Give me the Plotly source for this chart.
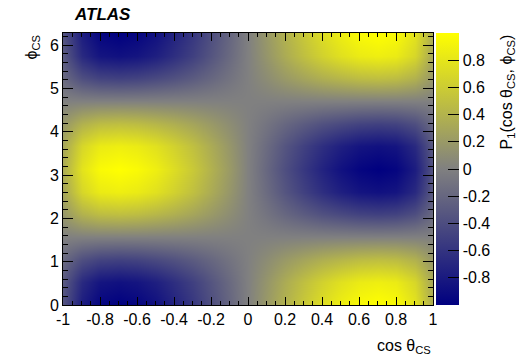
import plotly.graph_objects as go

cos_theta = [-1.0, -0.9, -0.8, -0.7, -0.6, -0.5, -0.4, -0.3, -0.2, -0.1, 0.0,
             0.1, 0.2, 0.3, 0.4, 0.5, 0.6, 0.7, 0.8, 0.9, 1.0]
phi = [0.0, 0.524, 1.047, 1.571, 2.094, 2.618, 3.142, 3.665, 4.189, 4.712, 5.236, 5.760, 6.283]

rowA = [-.35, -.78, -.96, -1.0, -.96, -.87, -.73, -.57, -.39, -.20, 0, .20, .39, .57, .73, .87, .96, 1.0, .96, .78, .35]
rowB = [-.30, -.68, -.84, -.87, -.84, -.76, -.64, -.50, -.34, -.17, 0, .17, .34, .50, .64, .76, .84, .87, .84, .68, .30]
rowC = [-.18, -.39, -.48, -.50, -.48, -.43, -.37, -.29, -.20, -.10, 0, .10, .20, .29, .37, .43, .48, .50, .48, .39, .18]
rowD = [0] * 21
rowE = [.18, .39, .48, .50, .48, .43, .37, .29, .20, .10, 0, -.10, -.20, -.29, -.37, -.43, -.48, -.50, -.48, -.39, -.18]
rowF = [.30, .68, .84, .87, .84, .76, .64, .50, .34, .17, 0, -.17, -.34, -.50, -.64, -.76, -.84, -.87, -.84, -.68, -.30]
rowG = [.35, .78, .96, 1.0, .96, .87, .73, .57, .39, .20, 0, -.20, -.39, -.57, -.73, -.87, -.96, -1.0, -.96, -.78, -.35]
p1_values = [rowA, rowB, rowC, rowD, rowE, rowF, rowG, rowF, rowE, rowD, rowC, rowB, rowA]

x_ticks = [-1, -0.8, -0.6, -0.4, -0.2, 0, 0.2, 0.4, 0.6, 0.8, 1]
x_ticktext = ["-1", "-0.8", "-0.6", "-0.4", "-0.2", "0", "0.2", "0.4", "0.6", "0.8", "1"]
y_ticks = [0, 1, 2, 3, 4, 5, 6]
cb_ticks = [-0.8, -0.6, -0.4, -0.2, 0, 0.2, 0.4, 0.6, 0.8]
cb_ticktext = ["-0.8", "-0.6", "-0.4", "-0.2", "0", "0.2", "0.4", "0.6", "0.8"]

FONT = "Liberation Sans, Arial, Helvetica, sans-serif"
L, R, T, B = 63, 91, 33, 53
W, H = 524, 358
pw = W - L - R
ph = H - T - B

fig = go.Figure(go.Heatmap(
    x=cos_theta, y=phi, z=p1_values, zsmooth="best",
    zmin=-1, zmax=1,
    colorscale=[[0, "#000080"], [0.5, "#808080"], [1, "#ffff00"]],
    colorbar=dict(
        x=1 + 3 / pw, xanchor="left", xpad=0, ypad=0,
        y=0.5, len=1, lenmode="fraction",
        thickness=23, thicknessmode="pixels",
        outlinewidth=0,
        tickvals=cb_ticks, ticktext=cb_ticktext,
        ticks="inside", ticklen=11, tickcolor="black", tickwidth=1,
        tickfont=dict(family=FONT, size=16, color="black"),
    ),
))

fig.update_layout(
    width=W, height=H,
    margin=dict(l=L, r=R, t=T, b=B),
    paper_bgcolor="white", plot_bgcolor="white",
    font=dict(family=FONT, size=16, color="black"),
    xaxis=dict(range=[-1, 1], tickvals=x_ticks, ticktext=x_ticktext,
               showgrid=False, zeroline=False, showline=True, linecolor="black",
               linewidth=1, mirror="ticks", ticks="inside", ticklen=8,
               tickcolor="black",
               minor=dict(ticks="inside", ticklen=4, dtick=0.05, tick0=-1,
                          tickcolor="black", showgrid=False),
               tickfont=dict(size=16)),
    yaxis=dict(range=[0, 6.283], tickvals=y_ticks,
               showgrid=False, zeroline=False, showline=True, linecolor="black",
               linewidth=1, mirror="ticks", ticks="inside", ticklen=10,
               tickcolor="black",
               minor=dict(ticks="inside", ticklen=5, dtick=0.2, tick0=0,
                          tickcolor="black", showgrid=False),
               tickfont=dict(size=16)),
    annotations=[
        dict(text="<b><i>ATLAS</i></b>", xref="paper", yref="paper",
             x=(102 - L) / pw, y=1 + (T - 14.5) / ph,
             xanchor="center", yanchor="middle", showarrow=False,
             font=dict(size=17, family=FONT)),
        dict(text="P<sub>1</sub>(cos θ<sub>CS</sub>, ϕ<sub>CS</sub>)",
             xref="paper", yref="paper",
             x=(507 - L) / pw, y=1.0, xanchor="center", yanchor="top",
             textangle=-90, showarrow=False, font=dict(size=16, family=FONT)),
        dict(text="cos θ<sub>CS</sub>", xref="paper", yref="paper",
             x=1.0, y=-(346 - (H - B)) / ph, xanchor="right",
             yanchor="middle", showarrow=False, font=dict(size=16, family=FONT)),
        dict(text="ϕ<sub>CS</sub>", xref="paper", yref="paper",
             x=(32 - L) / pw, y=1.0, xanchor="center", yanchor="top",
             textangle=-90, showarrow=False, font=dict(size=16, family=FONT)),
    ],
)

fig.write_html("out.html")
